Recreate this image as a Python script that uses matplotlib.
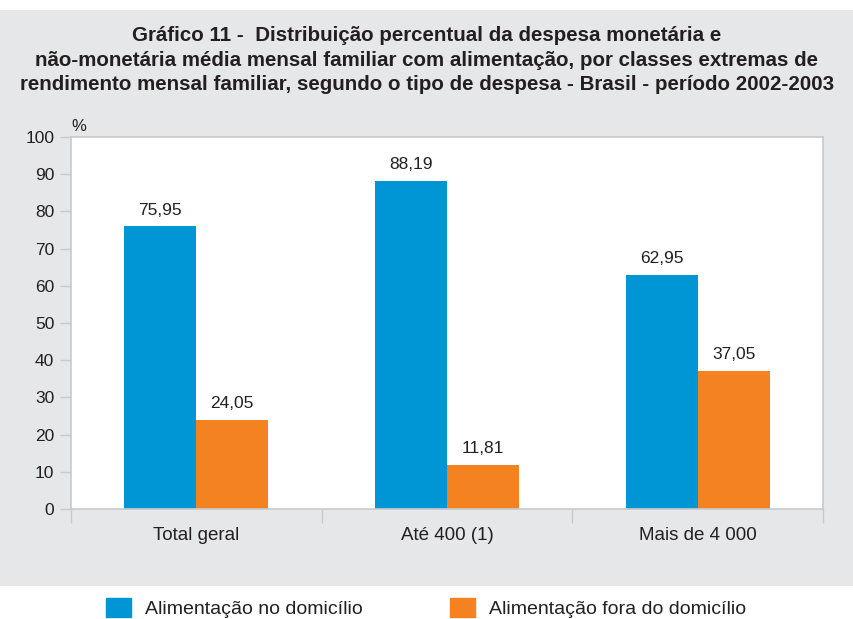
import matplotlib
matplotlib.use('Agg')
import matplotlib.pyplot as plt
import numpy as np
from matplotlib import font_manager
from matplotlib.patches import Rectangle

# data
categories = ['Total geral', 'Até 400 (1)', 'Mais de 4 000']
no_domicilio = [75.95, 88.19, 62.95]
fora_domicilio = [24.05, 11.81, 37.05]
series_names = ['Alimentação no domicílio', 'Alimentação fora do domicílio']
title = ('Gráfico 11 -  Distribuição percentual da despesa monetária e\n'
         'não-monetária média mensal familiar com alimentação, por classes extremas de\n'
         'rendimento mensal familiar, segundo o tipo de despesa - Brasil - período 2002-2003')

BLUE = '#0096d6'
ORANGE = '#f58220'
GREY_BG = '#e6e7e8'
SPINE = '#c8c9cb'
TXT = '#231f20'

names = {f.name for f in font_manager.fontManager.ttflist}
plain = 'Liberation Sans' if 'Liberation Sans' in names else 'DejaVu Sans'
narrow = 'Liberation Sans Narrow' if 'Liberation Sans Narrow' in names else plain
plt.rcParams['font.family'] = [plain, 'DejaVu Sans']

fig = plt.figure(figsize=(8.54, 6.19), dpi=100)
fig.patch.set_facecolor('white')

# grey panel behind title and chart
fig.patches.append(Rectangle((0, 1 - 586 / 619), 1, (586 - 10) / 619,
                             transform=fig.transFigure, facecolor=GREY_BG,
                             edgecolor='none', zorder=-5))

fig.text(0.5, 1 - 60 / 619, title, ha='center', va='center', fontsize=14.8,
         fontweight='bold', family=narrow, color=TXT, linespacing=1.38)

ax = fig.add_axes([71 / 854, 1 - 509 / 619, (823 - 71) / 854, (509 - 137) / 619])
ax.set_zorder(2)
ax.set_facecolor('white')

x = np.arange(len(categories))
w = 0.287
ax.bar(x - w / 2, no_domicilio, w, color=BLUE, zorder=2)
ax.bar(x + w / 2, fora_domicilio, w, color=ORANGE, zorder=2)

for xi, v in zip(x - w / 2, no_domicilio):
    ax.text(xi, v + 2.4, f'{v:.2f}'.replace('.', ','), ha='center', va='bottom',
            fontsize=12.5, color=TXT)
for xi, v in zip(x + w / 2, fora_domicilio):
    ax.text(xi, v + 2.4, f'{v:.2f}'.replace('.', ','), ha='center', va='bottom',
            fontsize=12.5, color=TXT)

ax.set_xlim(-0.5, len(categories) - 0.5)
ax.set_ylim(0, 100)
ax.set_yticks(range(0, 101, 10))
ax.tick_params(axis='y', length=8, width=1, color=SPINE, labelsize=12.5,
               labelcolor=TXT, pad=4)

# group boundary ticks on the x axis, labels at group centres
ax.set_xticks(np.arange(-0.5, len(categories), 1.0))
ax.set_xticklabels([])
ax.tick_params(axis='x', length=10, width=1, color=SPINE)
for xi, c in zip(x, categories):
    ax.text(xi, -7.2, c, ha='center', va='center', fontsize=13.5, family=narrow,
            color=TXT, clip_on=False)

for s in ax.spines.values():
    s.set_color(SPINE)
    s.set_linewidth(1.2)

ax.text(0.0, 1.008, '%', transform=ax.transAxes, ha='left', va='bottom',
        fontsize=12, color=TXT)

# legend drawn below the grey panel
handles = [Rectangle((0, 0), 1, 1, color=BLUE), Rectangle((0, 0), 1, 1, color=ORANGE)]
leg = fig.legend(handles, series_names, loc='center', ncol=2,
                 bbox_to_anchor=(0.499, 1 - 608 / 619), frameon=False,
                 prop={'family': narrow, 'size': 14}, handlelength=1.3,
                 handleheight=1.1, handletextpad=0.72, columnspacing=4.5)
for t in leg.get_texts():
    t.set_color(TXT)

fig.savefig('out.png', dpi=100, facecolor=fig.get_facecolor())
